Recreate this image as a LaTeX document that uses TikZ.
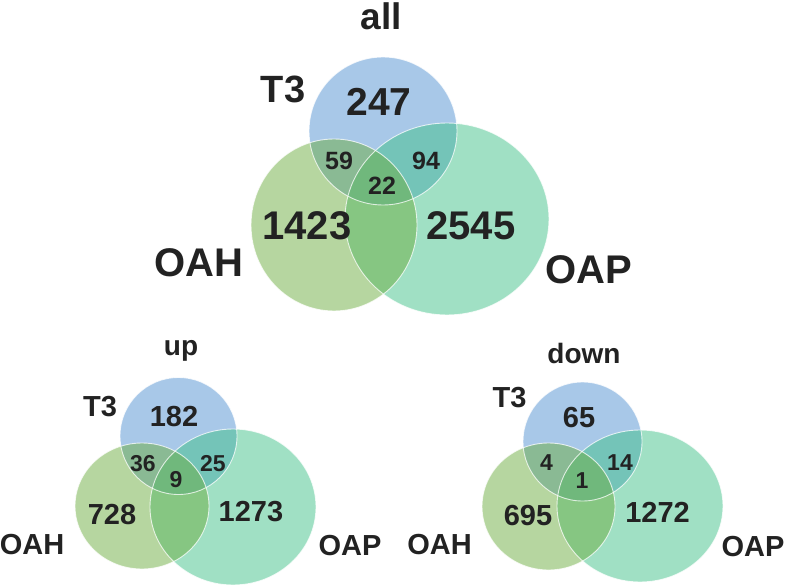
\documentclass[tikz,border=0pt]{standalone}
\usepackage{fontspec}
\setmainfont{Liberation Sans}
\definecolor{tthree}{RGB}{81,145,209}
\definecolor{oahc}{RGB}{109,173,65}
\definecolor{oapc}{RGB}{65,193,137}
\definecolor{txt}{RGB}{34,34,34}
\tikzset{
  fsz/.style={font=\fontsize{#1bp}{#1bp}\selectfont\bfseries, text=txt, inner sep=0pt},
  setT/.style={fill=tthree, fill opacity=0.5},
  setH/.style={fill=oahc, fill opacity=0.5},
  setP/.style={fill=oapc, fill opacity=0.5},
  rim/.style={draw=white, draw opacity=0.75, line width=0.9bp}
}
\begin{document}
\begin{tikzpicture}[x=1bp,y=-1bp]
\useasboundingbox (0,0) rectangle (788,588);
% ---------- top: all ----------
\fill[setT] (383,131) circle [radius=74];
\fill[setP] (447,219) ellipse [x radius=102, y radius=96];
\fill[setH] (334,225) ellipse [x radius=83, y radius=86];
\draw[rim] (383,131) circle [radius=74];
\draw[rim] (447,219) ellipse [x radius=102, y radius=96];
\draw[rim] (334,225) ellipse [x radius=83, y radius=86];
\node[fsz=37, anchor=base] (allT) at (381,30) {all};
\node[fsz=38] (tA) at (283,89) {T3};
\node[fsz=39] (nA1) at (379,102) {247};
\node[fsz=25] (nA2) at (339,161) {59};
\node[fsz=25] (nA3) at (426,161) {94};
\node[fsz=25] (nA4) at (382,186) {22};
\node[fsz=40] (nA5) at (307,226) {1423};
\node[fsz=40] (nA6) at (471,226) {2545};
\node[fsz=40] (hA) at (199,263) {OAH};
\node[fsz=40] (pA) at (589,270) {OAP};
% ---------- bottom left: up ----------
\fill[setT] (178.5,436) circle [radius=58.5];
\fill[setP] (233,507) ellipse [x radius=83, y radius=78];
\fill[setH] (142,506) ellipse [x radius=67, y radius=63];
\draw[rim] (178.5,436) circle [radius=58.5];
\draw[rim] (233,507) ellipse [x radius=83, y radius=78];
\draw[rim] (142,506) ellipse [x radius=67, y radius=63];
\node[fsz=28, anchor=base] (upT) at (181,355) {up};
\node[fsz=29] (tB) at (100,407) {T3};
\node[fsz=29] (nB1) at (174,417) {182};
\node[fsz=23] (nB2) at (143,464) {36};
\node[fsz=23] (nB3) at (213,464) {25};
\node[fsz=23] (nB4) at (176,480) {9};
\node[fsz=29] (nB5) at (112,515) {728};
\node[fsz=29] (nB6) at (251,512) {1273};
\node[fsz=29] (hB) at (32,545) {OAH};
\node[fsz=29] (pB) at (350,546) {OAP};
% ---------- bottom right: down ----------
\fill[setT] (582.5,441.5) circle [radius=59.5];
\fill[setP] (640,506) ellipse [x radius=83, y radius=76];
\fill[setH] (548.5,506.5) ellipse [x radius=66.5, y radius=63.5];
\draw[rim] (582.5,441.5) circle [radius=59.5];
\draw[rim] (640,506) ellipse [x radius=83, y radius=76];
\draw[rim] (548.5,506.5) ellipse [x radius=66.5, y radius=63.5];
\node[fsz=28, anchor=base] (downT) at (584,363) {down};
\node[fsz=29] (tC) at (509.5,398) {T3};
\node[fsz=29] (nC1) at (579,418) {65};
\node[fsz=23] (nC2) at (546.5,463) {4};
\node[fsz=23] (nC3) at (620,463) {14};
\node[fsz=23] (nC4) at (582,481) {1};
\node[fsz=29] (nC5) at (528,516) {695};
\node[fsz=29] (nC6) at (657.5,512) {1272};
\node[fsz=29] (hC) at (439.5,545) {OAH};
\node[fsz=29] (pC) at (753,547) {OAP};
\end{tikzpicture}
\end{document}
